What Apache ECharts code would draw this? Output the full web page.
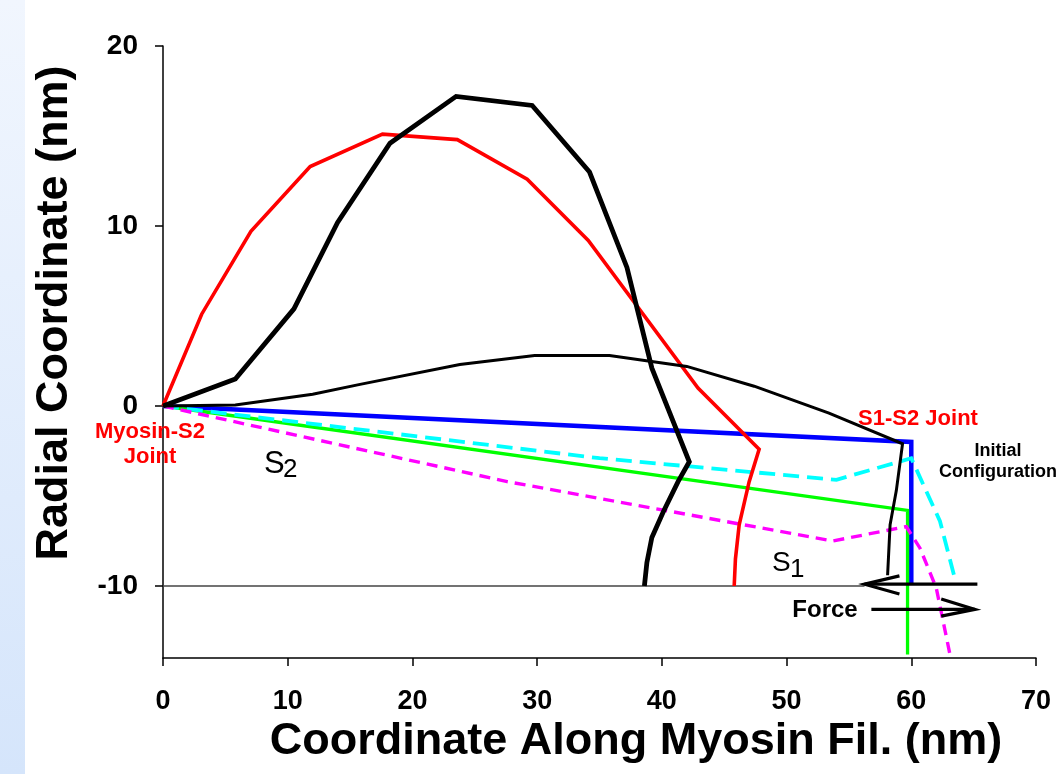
<!DOCTYPE html>
<html>
<head>
<meta charset="utf-8">
<title>Myosin S1-S2 configuration</title>
<script src="https://cdn.jsdelivr.net/npm/echarts@6/dist/echarts.min.js"></script>
<style>
  html, body { margin: 0; padding: 0; background: #fff; }
  #chart { width: 1060px; height: 774px; }
</style>
</head>
<body>
<div id="chart"></div>
<script>
// axis ticks
const X_TICKS = [0, 10, 20, 30, 40, 50, 60, 70];
const Y_TICKS = [-10, 0, 10, 20];

// curves, [x, y] in nm
const blackThick = [[0, 0], [5.8, 1.5], [10.5, 5.4], [14.0, 10.2], [18.2, 14.6], [23.5, 17.2], [29.6, 16.7],
  [34.2, 13.0], [37.2, 7.7], [39.2, 2.1], [42.2, -3.1], [41.3, -4.2], [40.1, -5.9], [39.2, -7.3], [38.8, -8.7], [38.6, -10]];
const redCurve = [[0, 0], [3.1, 5.1], [7.05, 9.7], [11.8, 13.3], [17.6, 15.1], [23.6, 14.8], [29.2, 12.6],
  [34.1, 9.2], [42.9, 1.0], [47.8, -2.4], [47.0, -4.2], [46.2, -6.6], [45.9, -8.5], [45.8, -10]];
const blackThin = [[0, 0], [5.8, 0.05], [12.0, 0.65], [15.8, 1.2], [23.8, 2.3], [29.8, 2.8], [35.8, 2.8],
  [42.0, 2.2], [47.4, 1.1], [53.4, -0.4], [59.3, -2.1], [58.8, -4.7], [58.3, -6.6], [58.1, -9.4]];
const blueInit = [[0, 0], [60, -2.0], [60, -9.9]];
const cyanDash = [[0, 0], [35, -2.9], [54, -4.1], [60, -2.9], [62.3, -6.4], [63.5, -9.6]];
const greenLine = [[0, 0], [59.7, -5.8], [59.7, -13.8]];
const magentaDash = [[0, 0], [27.6, -4.2], [53.7, -7.5], [59.6, -6.7], [60.7, -7.9], [62.0, -10.1], [63.1, -13.8]];

// -10 base line and the two force arrows
const baseLine = [[0, -10], [56.25, -10]];
const forceLeft = [[65.3, -9.9], [56.25, -9.9]];
const forceLeftHead = [[59.05, -9.44], [56.25, -9.9], [59.05, -10.44]];
const forceRight = [[56.8, -11.3], [65.1, -11.3]];
const forceRightHead = [[62.4, -10.72], [65.1, -11.3], [62.4, -11.67]];

const FONT = '"Liberation Sans", Arial, sans-serif';

function lineSeries(name, data, color, width, dash) {
  return {
    name: name,
    type: 'line',
    data: data,
    symbol: 'none',
    silent: true,
    lineStyle: { color: color, width: width, type: dash || 'solid', cap: 'butt', join: 'miter' }
  };
}

function txt(text, x, y, size, color, weight, align) {
  return {
    type: 'text',
    x: x, y: y,
    z: 100,
    style: {
      text: text,
      fill: color,
      font: (weight || 'normal') + ' ' + size + 'px ' + FONT,
      align: align || 'center',
      verticalAlign: 'middle',
      lineHeight: size + 3
    }
  };
}

const chart = echarts.init(document.getElementById('chart'));

const option = {
  animation: false,
  backgroundColor: '#fff',
  grid: { left: 163, right: 24, top: 46, bottom: 116 },
  xAxis: {
    type: 'value',
    min: 0, max: 70, interval: 10,
    axisLine: { onZero: false, lineStyle: { color: '#000', width: 1.5 } },
    axisTick: { length: 8, lineStyle: { color: '#000', width: 1.5 } },
    axisLabel: { color: '#000', fontSize: 27, fontWeight: 'bold', fontFamily: FONT, margin: 30,
      customValues: X_TICKS },
    splitLine: { show: false }
  },
  yAxis: {
    type: 'value',
    min: -14, max: 20,
    axisLine: { onZero: false, lineStyle: { color: '#000', width: 1.5 } },
    axisTick: { length: 8, customValues: Y_TICKS, lineStyle: { color: '#000', width: 1.5 } },
    axisLabel: { color: '#000', fontSize: 28, fontWeight: 'bold', fontFamily: FONT, margin: 25,
      customValues: Y_TICKS },
    splitLine: { show: false }
  },
  series: [
    lineSeries('base', baseLine, '#444', 1.6),
    lineSeries('initial', blueInit, '#0000ff', 4.5),
    lineSeries('green', greenLine, '#00ff00', 3.3),
    lineSeries('cyan', cyanDash, '#00ffff', 3.8, [16, 8]),
    lineSeries('magenta', magentaDash, '#ff00ff', 3.4, [11, 7]),
    lineSeries('red', redCurve, '#ff0000', 3.6),
    lineSeries('thin', blackThin, '#000', 3),
    lineSeries('thick', blackThick, '#000', 4.8),
    lineSeries('forceL', forceLeft, '#000', 3.2),
    lineSeries('forceLHead', forceLeftHead, '#000', 3.2),
    lineSeries('forceR', forceRight, '#000', 3.2),
    lineSeries('forceRHead', forceRightHead, '#000', 3.2)
  ],
  graphic: [
    {
      type: 'rect', z: -10,
      shape: { x: 0, y: 0, width: 25, height: 774 },
      style: {
        fill: new echarts.graphic.LinearGradient(0, 0, 0, 1, [
          { offset: 0, color: '#f1f6fe' },
          { offset: 1, color: '#d5e5fb' }
        ])
      }
    },
    {
      type: 'text', x: 55, y: 313, rotation: Math.PI / 2, z: 100,
      style: { text: 'Radial Coordinate (nm)', fill: '#000', font: 'bold 45px ' + FONT,
        align: 'center', verticalAlign: 'middle' }
    },
    txt('Coordinate Along Myosin Fil. (nm)', 636, 742, 45, '#000', 'bold'),
    txt('Myosin-S2\nJoint', 150, 444, 22, '#ff0000', 'bold'),
    txt('S1-S2 Joint', 918, 419, 22, '#ff0000', 'bold'),
    txt('Initial\nConfiguration', 998, 462, 18, '#000', 'bold'),
    txt('Force', 825, 610, 24, '#000', 'bold'),
    txt('S', 264, 464, 31, '#000', 'normal', 'left'),
    txt('2', 283, 470, 26, '#000', 'normal', 'left'),
    txt('S', 772, 563, 28, '#000', 'normal', 'left'),
    txt('1', 790, 570, 26, '#000', 'normal', 'left')
  ]
};

chart.setOption(option);
</script>
</body>
</html>
